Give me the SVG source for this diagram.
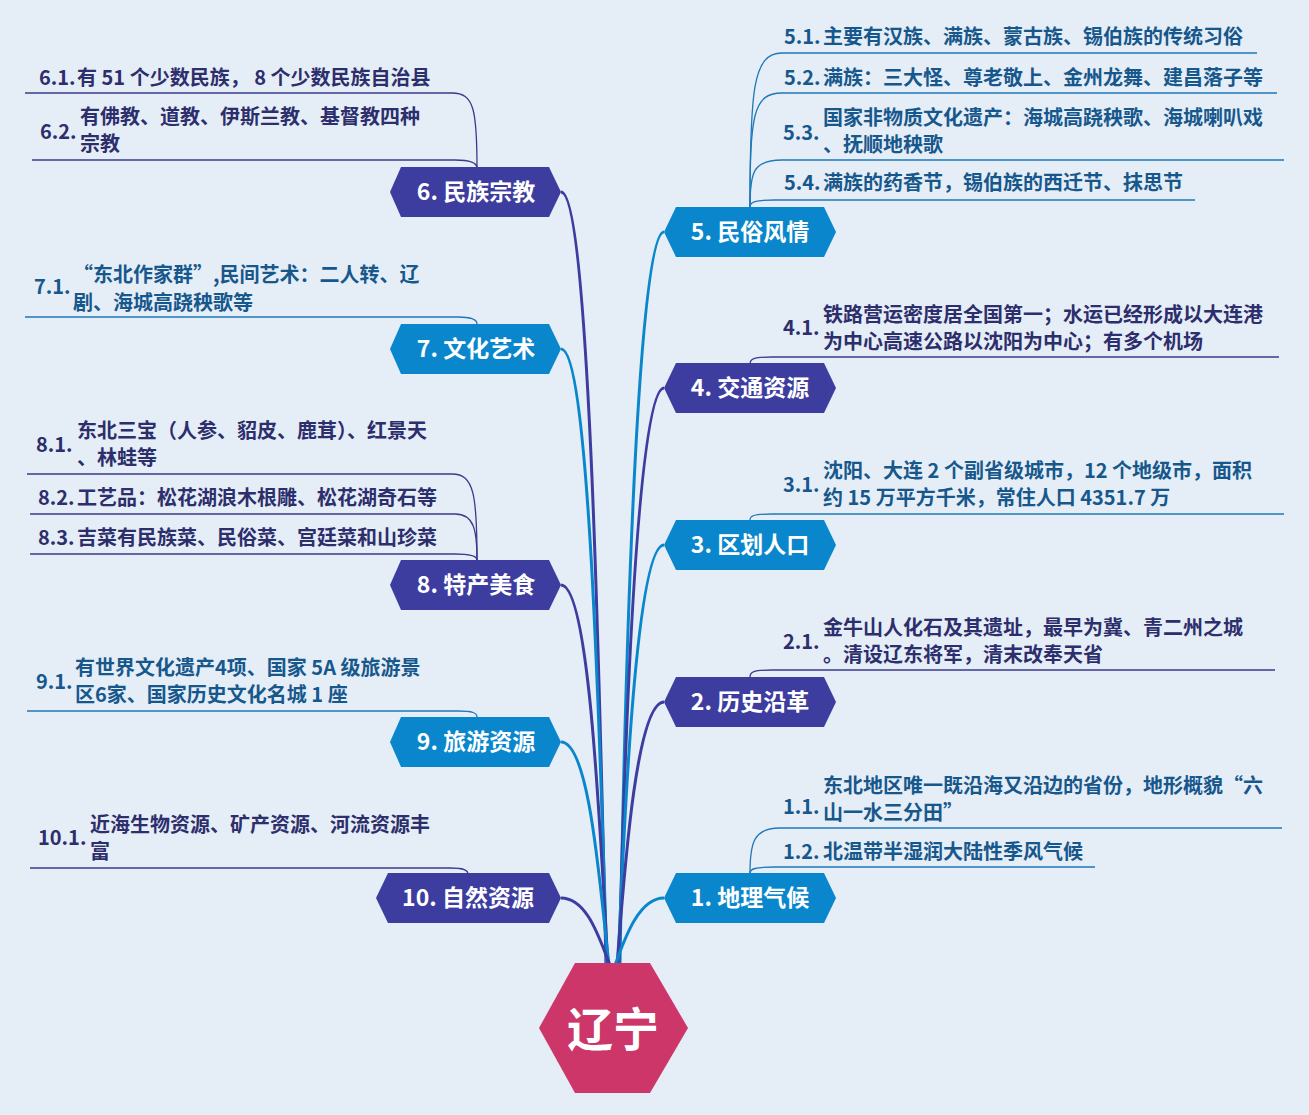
<svg xmlns="http://www.w3.org/2000/svg" width="1309" height="1115" viewBox="0 0 1309 1115">
<style>
text{font-family:"Noto Sans CJK SC","Noto Sans",sans-serif}
.nt{font-size:23px;font-weight:bold;fill:#fff;text-anchor:middle}
.st{font-size:20px;font-weight:bold}
.sb{fill:#17588c}
.sp{fill:#2d2e6c}
.blue{fill:#0a87cc}
.purp{fill:#3d3da0}
.mb{fill:none;stroke:#0a87cc;stroke-width:3}
.mp{fill:none;stroke:#3d3da0;stroke-width:3}
.ub{fill:none;stroke:#1f78b8;stroke-width:1.3}
.up{fill:none;stroke:#3a3a8c;stroke-width:1.3}
</style>
<rect width="1309" height="1115" fill="#e5edf7"/>
<g id="connectors">
<path class="mp" d="M561,192 C590,192 600,705 606,965"/>
<path class="mb" d="M561,349 C590,349 600,753 607,965"/>
<path class="mp" d="M561,585 C590,585 600,835 608,965"/>
<path class="mb" d="M561,742 C590,742 600,889 609,965"/>
<path class="mp" d="M561,898 C588,898 600,941 610,965"/>
<path class="mb" d="M664,232 C636,232 624,714 620,965"/>
<path class="mp" d="M664,388 C636,388 624,768 619,965"/>
<path class="mb" d="M664,545 C636,545 624,822 618,965"/>
<path class="mp" d="M664,702 C636,702 624,876 617,965"/>
<path class="mb" d="M664,898 C638,898 624,941 615,965"/>
<path class="ub" d="M750,207 C750,90 753,53 782,53 L1257,53"/>
<path class="ub" d="M750,207 C750,115 753,93 782,93 L1277,93"/>
<path class="ub" d="M750,207 C750,172 753,160 782,160 L1284,160"/>
<path class="ub" d="M750,207 C750,202 755,200 775,200 L1195,200"/>
<path class="up" d="M750,364 C750,359 753,357 772,357 L1279,357"/>
<path class="ub" d="M750,520 C750,516 753,514 772,514 L1284,514"/>
<path class="up" d="M750,677 C750,672 753,670 772,670 L1275,670"/>
<path class="ub" d="M750,873 C750,842 754,828 780,828 L1282,828"/>
<path class="ub" d="M750,873 C750,869 755,867 775,867 L1095,867"/>
<path class="up" d="M477,168 C477,110 474,93 452,93 L25,93"/>
<path class="up" d="M477,168 C477,163 472,160 455,160 L32,160"/>
<path class="ub" d="M477,324 C477,320 473,317 458,317 L25,317"/>
<path class="up" d="M477,560 C477,495 474,474 452,474 L27,474"/>
<path class="up" d="M477,560 C477,530 474,514 455,514 L30,514"/>
<path class="up" d="M477,560 C477,557 472,554 455,554 L30,554"/>
<path class="ub" d="M477,717 C477,713 473,711 458,711 L27,711"/>
<path class="up" d="M468,874 C468,870 464,868 450,868 L30,868"/>
</g>
<g id="center">
<polygon points="575,963 650,963 688,1028 650,1093 575,1093 539,1028" fill="#cc3668"/>
<text x="613" y="1046" font-size="46" font-weight="bold" fill="#fff" text-anchor="middle">辽宁</text>
</g>
<g id="n1">
<polygon class="blue" points="664,898 676,873 824,873 836,898 824,923 676,923"/>
<text class="nt" x="750" y="906">1. 地理气候</text>
</g>
<g id="n1-1">
<text class="st sb"><tspan x="783" y="814">1.1.</tspan><tspan x="823" y="793">东北地区唯一既沿海又沿边的省份，地形概貌“六</tspan><tspan x="823" y="820">山一水三分田”</tspan></text>
</g>
<g id="n1-2">
<text class="st sb"><tspan x="783" y="859">1.2.</tspan><tspan x="823" y="859">北温带半湿润大陆性季风气候</tspan></text>
</g>
<g id="n2">
<polygon class="purp" points="664,702 676,677 824,677 836,702 824,727 676,727"/>
<text class="nt" x="750" y="710">2. 历史沿革</text>
</g>
<g id="n2-1">
<text class="st sp"><tspan x="783" y="649">2.1.</tspan><tspan x="823" y="635">金牛山人化石及其遗址，最早为冀、青二州之城</tspan><tspan x="823" y="662">。清设辽东将军，清末改奉天省</tspan></text>
</g>
<g id="n3">
<polygon class="blue" points="664,545 676,520 824,520 836,545 824,570 676,570"/>
<text class="nt" x="750" y="553">3. 区划人口</text>
</g>
<g id="n3-1">
<text class="st sb"><tspan x="783" y="492">3.1.</tspan><tspan x="823" y="478">沈阳、大连 2 个副省级城市，12 个地级市，面积</tspan><tspan x="823" y="505">约 15 万平方千米，常住人口 4351.7 万</tspan></text>
</g>
<g id="n4">
<polygon class="purp" points="664,388 676,363 824,363 836,388 824,413 676,413"/>
<text class="nt" x="750" y="396">4. 交通资源</text>
</g>
<g id="n4-1">
<text class="st sp"><tspan x="783" y="335">4.1.</tspan><tspan x="823" y="322">铁路营运密度居全国第一；水运已经形成以大连港</tspan><tspan x="823" y="349">为中心高速公路以沈阳为中心；有多个机场</tspan></text>
</g>
<g id="n5">
<polygon class="blue" points="664,232 676,207 824,207 836,232 824,257 676,257"/>
<text class="nt" x="750" y="240">5. 民俗风情</text>
</g>
<g id="n5-1">
<text class="st sb"><tspan x="784" y="44">5.1.</tspan><tspan x="823" y="44">主要有汉族、满族、蒙古族、锡伯族的传统习俗</tspan></text>
</g>
<g id="n5-2">
<text class="st sb"><tspan x="784" y="85">5.2.</tspan><tspan x="823" y="85">满族：三大怪、尊老敬上、金州龙舞、建昌落子等</tspan></text>
</g>
<g id="n5-3">
<text class="st sb"><tspan x="783" y="140">5.3.</tspan><tspan x="823" y="125">国家非物质文化遗产：海城高跷秧歌、海城喇叭戏</tspan><tspan x="823" y="152">、抚顺地秧歌</tspan></text>
</g>
<g id="n5-4">
<text class="st sb"><tspan x="784" y="190">5.4.</tspan><tspan x="823" y="190">满族的药香节，锡伯族的西迁节、抹思节</tspan></text>
</g>
<g id="n6">
<polygon class="purp" points="390,192 401,167 549,167 561,192 549,217 401,217"/>
<text class="nt" x="476" y="200">6. 民族宗教</text>
</g>
<g id="n6-1">
<text class="st sp"><tspan x="39" y="85">6.1.</tspan><tspan x="77" y="85">有 51 个少数民族， 8 个少数民族自治县</tspan></text>
</g>
<g id="n6-2">
<text class="st sp"><tspan x="40" y="139">6.2.</tspan><tspan x="80" y="124">有佛教、道教、伊斯兰教、基督教四种</tspan><tspan x="80" y="151">宗教</tspan></text>
</g>
<g id="n7">
<polygon class="blue" points="390,349 401,324 549,324 561,349 549,374 401,374"/>
<text class="nt" x="476" y="357">7. 文化艺术</text>
</g>
<g id="n7-1">
<text class="st sb"><tspan x="34" y="294">7.1.</tspan><tspan x="73" y="282">“东北作家群”,民间艺术：二人转、辽</tspan><tspan x="73" y="310">剧、海城高跷秧歌等</tspan></text>
</g>
<g id="n8">
<polygon class="purp" points="390,585 401,560 549,560 561,585 549,610 401,610"/>
<text class="nt" x="476" y="593">8. 特产美食</text>
</g>
<g id="n8-1">
<text class="st sp"><tspan x="36" y="452">8.1.</tspan><tspan x="77" y="438">东北三宝（人参、貂皮、鹿茸）、红景天</tspan><tspan x="77" y="465">、林蛙等</tspan></text>
</g>
<g id="n8-2">
<text class="st sp"><tspan x="38" y="505">8.2.</tspan><tspan x="77" y="505">工艺品：松花湖浪木根雕、松花湖奇石等</tspan></text>
</g>
<g id="n8-3">
<text class="st sp"><tspan x="38" y="545">8.3.</tspan><tspan x="77" y="545">吉菜有民族菜、民俗菜、宫廷菜和山珍菜</tspan></text>
</g>
<g id="n9">
<polygon class="blue" points="390,742 401,717 549,717 561,742 549,767 401,767"/>
<text class="nt" x="476" y="750">9. 旅游资源</text>
</g>
<g id="n9-1">
<text class="st sb"><tspan x="36" y="689">9.1.</tspan><tspan x="75" y="675">有世界文化遗产4项、国家 5A 级旅游景</tspan><tspan x="75" y="702">区6家、国家历史文化名城 1 座</tspan></text>
</g>
<g id="n10">
<polygon class="purp" points="376,898 388,873 549,873 561,898 549,923 388,923"/>
<text class="nt" x="468" y="906">10. 自然资源</text>
</g>
<g id="n10-1">
<text class="st sp"><tspan x="38" y="845">10.1.</tspan><tspan x="90" y="832">近海生物资源、矿产资源、河流资源丰</tspan><tspan x="90" y="859">富</tspan></text>
</g>
</svg>
